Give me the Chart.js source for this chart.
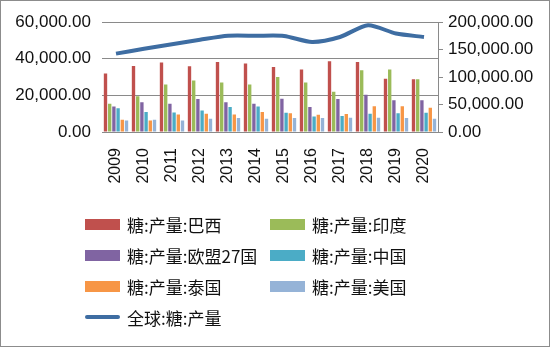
<!DOCTYPE html>
<html>
<head>
<meta charset="utf-8">
<script src="https://cdn.jsdelivr.net/npm/chart.js@4.4.1/dist/chart.umd.min.js"></script>
<style>
  html, body { margin: 0; padding: 0; background: #fff; }
  #wrap {
    position: relative; width: 550px; height: 347px;
    box-sizing: border-box; border: 1px solid #8c8c8c; overflow: hidden;
  }
  #chart { position: absolute; left: 0; top: 0; }
  .lg-item {
    position: absolute; height: 24px; display: flex; align-items: center;
    font-family: "Noto Sans CJK SC", "Liberation Sans", sans-serif;
    font-size: 17px; color: #111; white-space: nowrap;
  }
  .lg-sw { width: 35px; margin-right: 7px; }
</style>
</head>
<body>
<div id="wrap">
  <canvas id="chart" width="548" height="345"></canvas>
  <div id="legend"></div>
</div>
<script>
// 年份
const years = ['2009', '2010', '2011', '2012', '2013', '2014', '2015', '2016', '2017', '2018', '2019', '2020'];

// 各国糖产量（左轴）
const brazil   = [32000, 36000, 38000, 35900, 38200, 37400, 35500, 34100, 38700, 38200, 29100, 28800];
const india    = [15500, 19600, 26000, 28200, 27000, 26000, 30000, 27000, 22000, 33700, 34100, 28800];
const eu27     = [14000, 16300, 15500, 18000, 16300, 15500, 18200, 13600, 18000, 20400, 17300, 17300];
const china    = [13000, 10900, 10700, 11800, 13600, 14000, 10500,  8500,  8700, 10000, 10300, 10500];
const thailand = [ 6700,  6300,  9600, 10000,  9600, 10900, 10300,  9400,  9800, 14100, 14100, 13300];
const usa      = [ 6300,  6700,  6300,  7200,  7600,  7200,  7600,  7600,  7800,  7800,  7600,  7200];

// 全球糖产量（右轴）
const world = [142800, 151600, 159800, 168000, 175300, 175300, 175000, 164000, 173100, 194500, 179300, 173100];

// 刻度
const leftTicks  = [0, 20000, 40000, 60000];
const rightTicks = [0, 50000, 100000, 150000, 200000];

const fmt = v => Number(v).toLocaleString('en-US', { minimumFractionDigits: 2, maximumFractionDigits: 2 });

function bar(label, data, color) {
  return {
    type: 'bar', label, data, yAxisID: 'y',
    backgroundColor: color, borderWidth: 0,
    categoryPercentage: 0.9, barPercentage: 0.8, order: 2,
  };
}

const datasets = [
  bar('糖:产量:巴西', brazil, '#C0504D'),
  bar('糖:产量:印度', india, '#9BBB59'),
  bar('糖:产量:欧盟27国', eu27, '#8064A2'),
  bar('糖:产量:中国', china, '#4BACC6'),
  bar('糖:产量:泰国', thailand, '#F79646'),
  bar('糖:产量:美国', usa, '#95B3D7'),
  {
    type: 'line', label: '全球:糖:产量', data: world, yAxisID: 'y1',
    borderColor: '#3E6DA2', borderWidth: 4, pointRadius: 0,
    tension: 0.25, fill: false, order: 1,
  },
];

const tickFont = { family: 'Liberation Sans', size: 17 };

const chart = new Chart(document.getElementById('chart'), {
  data: { labels: years, datasets },
  options: {
    responsive: false,
    animation: false,
    layout: { padding: { top: 21, left: 0, right: 0, bottom: 0 } },
    plugins: { legend: { display: false }, tooltip: { enabled: false } },
    scales: {
      x: {
        grid: { display: false },
        border: { display: true, color: '#8a8a8a', width: 1 },
        ticks: {
          color: '#111', font: { family: 'Liberation Sans', size: 16 },
          minRotation: 90, maxRotation: 90, padding: 8, autoSkip: false,
        },
        afterFit(s) { s.height = 214; },
      },
      y: {
        position: 'left', min: 0, max: 60000,
        afterBuildTicks(s) { s.ticks = leftTicks.map(v => ({ value: v })); },
        grid: { color: '#8a8a8a', lineWidth: 1, drawTicks: false },
        border: { display: false },
        ticks: { color: '#111', font: tickFont, padding: 11, callback: v => fmt(v) },
        afterFit(s) { s.width = 101; },
      },
      y1: {
        position: 'right', min: 0, max: 200000,
        afterBuildTicks(s) { s.ticks = rightTicks.map(v => ({ value: v })); },
        grid: { drawOnChartArea: false, color: '#8a8a8a', tickLength: 5 },
        border: { display: true, color: '#8a8a8a' },
        ticks: { color: '#111', font: tickFont, padding: 5, callback: v => fmt(v) },
        afterFit(s) { s.width = 111; },
      },
    },
  },
});

// 图例：两列排列
const legend = document.getElementById('legend');
chart.data.datasets.forEach((ds, i) => {
  const item = document.createElement('div');
  item.className = 'lg-item';
  item.style.left = (84 + (i % 2) * 185) + 'px';
  item.style.top = (211 + Math.floor(i / 2) * 31) + 'px';
  const sw = document.createElement('span');
  sw.className = 'lg-sw';
  if (ds.type === 'line') {
    sw.style.height = '4px';
    sw.style.borderRadius = '2px';
    sw.style.background = ds.borderColor;
  } else {
    sw.style.height = '11px';
    sw.style.background = ds.backgroundColor;
  }
  const txt = document.createElement('span');
  txt.textContent = ds.label;
  item.appendChild(sw);
  item.appendChild(txt);
  legend.appendChild(item);
});
</script>
</body>
</html>
